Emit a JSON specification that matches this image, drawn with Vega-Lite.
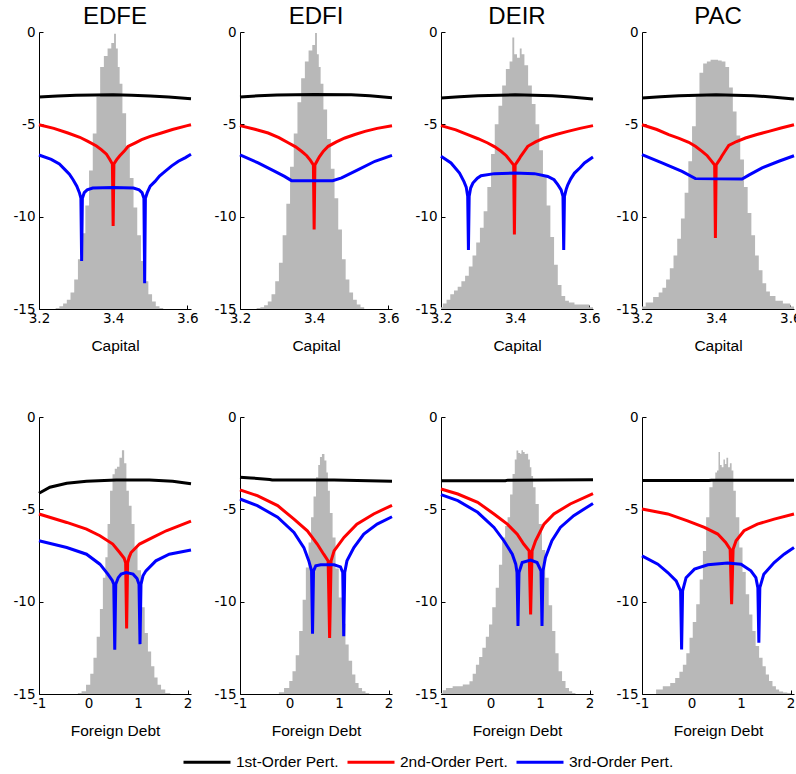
{
  "$schema": "https://vega.github.io/schema/vega-lite/v6.json",
  "background": "white",
  "padding": {"left": 12, "top": 5, "right": 0, "bottom": 0},
  "data": {"values": [
    {"v":"K","m":"EDFE","s":"h","x":3.24,"y":-15},{"v":"K","m":"EDFE","s":"h","x":3.25,"y":-14.95},{"v":"K","m":"EDFE","s":"h","x":3.26,"y":-14.85},{"v":"K","m":"EDFE","s":"h","x":3.27,"y":-14.7},{"v":"K","m":"EDFE","s":"h","x":3.28,"y":-14.5},{"v":"K","m":"EDFE","s":"h","x":3.29,"y":-14.1},{"v":"K","m":"EDFE","s":"h","x":3.30,"y":-13.4},{"v":"K","m":"EDFE","s":"h","x":3.31,"y":-12.3},{"v":"K","m":"EDFE","s":"h","x":3.32,"y":-10.9},{"v":"K","m":"EDFE","s":"h","x":3.33,"y":-9.4},{"v":"K","m":"EDFE","s":"h","x":3.34,"y":-7.5},{"v":"K","m":"EDFE","s":"h","x":3.35,"y":-5.5},{"v":"K","m":"EDFE","s":"h","x":3.36,"y":-3.5},{"v":"K","m":"EDFE","s":"h","x":3.37,"y":-1.9},{"v":"K","m":"EDFE","s":"h","x":3.38,"y":-1.3},{"v":"K","m":"EDFE","s":"h","x":3.39,"y":-0.9},{"v":"K","m":"EDFE","s":"h","x":3.40,"y":-0.6},{"v":"K","m":"EDFE","s":"h","x":3.405,"y":-0.1},{"v":"K","m":"EDFE","s":"h","x":3.41,"y":-0.9},{"v":"K","m":"EDFE","s":"h","x":3.415,"y":-1.9},{"v":"K","m":"EDFE","s":"h","x":3.42,"y":-2.8},{"v":"K","m":"EDFE","s":"h","x":3.43,"y":-4.4},{"v":"K","m":"EDFE","s":"h","x":3.44,"y":-6.2},{"v":"K","m":"EDFE","s":"h","x":3.45,"y":-7.9},{"v":"K","m":"EDFE","s":"h","x":3.46,"y":-9.5},{"v":"K","m":"EDFE","s":"h","x":3.47,"y":-11.0},{"v":"K","m":"EDFE","s":"h","x":3.48,"y":-12.4},{"v":"K","m":"EDFE","s":"h","x":3.49,"y":-13.5},{"v":"K","m":"EDFE","s":"h","x":3.50,"y":-14.2},{"v":"K","m":"EDFE","s":"h","x":3.51,"y":-14.6},{"v":"K","m":"EDFE","s":"h","x":3.52,"y":-14.85},{"v":"K","m":"EDFE","s":"h","x":3.53,"y":-14.95},{"v":"K","m":"EDFE","s":"h","x":3.54,"y":-15},
    {"v":"K","m":"EDFE","s":"1st","x":3.2,"y":-3.52},{"v":"K","m":"EDFE","s":"1st","x":3.25,"y":-3.47},{"v":"K","m":"EDFE","s":"1st","x":3.3,"y":-3.43},{"v":"K","m":"EDFE","s":"1st","x":3.35,"y":-3.41},{"v":"K","m":"EDFE","s":"1st","x":3.4,"y":-3.4},{"v":"K","m":"EDFE","s":"1st","x":3.45,"y":-3.42},{"v":"K","m":"EDFE","s":"1st","x":3.5,"y":-3.46},{"v":"K","m":"EDFE","s":"1st","x":3.55,"y":-3.52},{"v":"K","m":"EDFE","s":"1st","x":3.61,"y":-3.62},
    {"v":"K","m":"EDFE","s":"2nd","x":3.2,"y":-5.02},{"v":"K","m":"EDFE","s":"2nd","x":3.24,"y":-5.22},{"v":"K","m":"EDFE","s":"2nd","x":3.278,"y":-5.47},{"v":"K","m":"EDFE","s":"2nd","x":3.31,"y":-5.7},{"v":"K","m":"EDFE","s":"2nd","x":3.332,"y":-5.92},{"v":"K","m":"EDFE","s":"2nd","x":3.355,"y":-6.17},{"v":"K","m":"EDFE","s":"2nd","x":3.368,"y":-6.37},{"v":"K","m":"EDFE","s":"2nd","x":3.382,"y":-6.62},{"v":"K","m":"EDFE","s":"2nd","x":3.391,"y":-6.9},{"v":"K","m":"EDFE","s":"2nd","x":3.398,"y":-7.15},{"v":"K","m":"EDFE","s":"2nd","x":3.4,"y":-10.5},{"v":"K","m":"EDFE","s":"2nd","x":3.402,"y":-7.15},{"v":"K","m":"EDFE","s":"2nd","x":3.41,"y":-6.9},{"v":"K","m":"EDFE","s":"2nd","x":3.418,"y":-6.7},{"v":"K","m":"EDFE","s":"2nd","x":3.43,"y":-6.45},{"v":"K","m":"EDFE","s":"2nd","x":3.44,"y":-6.2},{"v":"K","m":"EDFE","s":"2nd","x":3.46,"y":-6.0},{"v":"K","m":"EDFE","s":"2nd","x":3.477,"y":-5.83},{"v":"K","m":"EDFE","s":"2nd","x":3.5,"y":-5.65},{"v":"K","m":"EDFE","s":"2nd","x":3.53,"y":-5.47},{"v":"K","m":"EDFE","s":"2nd","x":3.56,"y":-5.28},{"v":"K","m":"EDFE","s":"2nd","x":3.6,"y":-5.07},{"v":"K","m":"EDFE","s":"2nd","x":3.61,"y":-5.02},
    {"v":"K","m":"EDFE","s":"3rd","x":3.2,"y":-6.66},{"v":"K","m":"EDFE","s":"3rd","x":3.233,"y":-6.9},{"v":"K","m":"EDFE","s":"3rd","x":3.255,"y":-7.15},{"v":"K","m":"EDFE","s":"3rd","x":3.27,"y":-7.45},{"v":"K","m":"EDFE","s":"3rd","x":3.282,"y":-7.7},{"v":"K","m":"EDFE","s":"3rd","x":3.292,"y":-8.0},{"v":"K","m":"EDFE","s":"3rd","x":3.302,"y":-8.35},{"v":"K","m":"EDFE","s":"3rd","x":3.309,"y":-8.7},{"v":"K","m":"EDFE","s":"3rd","x":3.313,"y":-9.0},{"v":"K","m":"EDFE","s":"3rd","x":3.315,"y":-12.4},{"v":"K","m":"EDFE","s":"3rd","x":3.317,"y":-9.0},{"v":"K","m":"EDFE","s":"3rd","x":3.322,"y":-8.7},{"v":"K","m":"EDFE","s":"3rd","x":3.33,"y":-8.55},{"v":"K","m":"EDFE","s":"3rd","x":3.345,"y":-8.45},{"v":"K","m":"EDFE","s":"3rd","x":3.40,"y":-8.42},{"v":"K","m":"EDFE","s":"3rd","x":3.455,"y":-8.45},{"v":"K","m":"EDFE","s":"3rd","x":3.47,"y":-8.55},{"v":"K","m":"EDFE","s":"3rd","x":3.478,"y":-8.7},{"v":"K","m":"EDFE","s":"3rd","x":3.483,"y":-9.0},{"v":"K","m":"EDFE","s":"3rd","x":3.485,"y":-13.6},{"v":"K","m":"EDFE","s":"3rd","x":3.487,"y":-9.0},{"v":"K","m":"EDFE","s":"3rd","x":3.492,"y":-8.7},{"v":"K","m":"EDFE","s":"3rd","x":3.5,"y":-8.35},{"v":"K","m":"EDFE","s":"3rd","x":3.513,"y":-8.09},{"v":"K","m":"EDFE","s":"3rd","x":3.525,"y":-7.8},{"v":"K","m":"EDFE","s":"3rd","x":3.54,"y":-7.55},{"v":"K","m":"EDFE","s":"3rd","x":3.558,"y":-7.25},{"v":"K","m":"EDFE","s":"3rd","x":3.576,"y":-7.0},{"v":"K","m":"EDFE","s":"3rd","x":3.595,"y":-6.8},{"v":"K","m":"EDFE","s":"3rd","x":3.61,"y":-6.62},

    {"v":"K","m":"EDFI","s":"h","x":3.24,"y":-15},{"v":"K","m":"EDFI","s":"h","x":3.25,"y":-14.95},{"v":"K","m":"EDFI","s":"h","x":3.26,"y":-14.9},{"v":"K","m":"EDFI","s":"h","x":3.27,"y":-14.8},{"v":"K","m":"EDFI","s":"h","x":3.28,"y":-14.6},{"v":"K","m":"EDFI","s":"h","x":3.29,"y":-14.2},{"v":"K","m":"EDFI","s":"h","x":3.30,"y":-13.5},{"v":"K","m":"EDFI","s":"h","x":3.31,"y":-12.5},{"v":"K","m":"EDFI","s":"h","x":3.32,"y":-11.0},{"v":"K","m":"EDFI","s":"h","x":3.33,"y":-9.3},{"v":"K","m":"EDFI","s":"h","x":3.34,"y":-7.3},{"v":"K","m":"EDFI","s":"h","x":3.35,"y":-5.5},{"v":"K","m":"EDFI","s":"h","x":3.36,"y":-3.8},{"v":"K","m":"EDFI","s":"h","x":3.37,"y":-2.5},{"v":"K","m":"EDFI","s":"h","x":3.38,"y":-1.6},{"v":"K","m":"EDFI","s":"h","x":3.39,"y":-1.0},{"v":"K","m":"EDFI","s":"h","x":3.40,"y":-0.7},{"v":"K","m":"EDFI","s":"h","x":3.405,"y":-0.05},{"v":"K","m":"EDFI","s":"h","x":3.41,"y":-1.2},{"v":"K","m":"EDFI","s":"h","x":3.415,"y":-1.9},{"v":"K","m":"EDFI","s":"h","x":3.42,"y":-2.8},{"v":"K","m":"EDFI","s":"h","x":3.43,"y":-4.2},{"v":"K","m":"EDFI","s":"h","x":3.44,"y":-5.8},{"v":"K","m":"EDFI","s":"h","x":3.45,"y":-7.4},{"v":"K","m":"EDFI","s":"h","x":3.46,"y":-9.0},{"v":"K","m":"EDFI","s":"h","x":3.47,"y":-10.7},{"v":"K","m":"EDFI","s":"h","x":3.48,"y":-12.3},{"v":"K","m":"EDFI","s":"h","x":3.49,"y":-13.4},{"v":"K","m":"EDFI","s":"h","x":3.50,"y":-14.1},{"v":"K","m":"EDFI","s":"h","x":3.51,"y":-14.5},{"v":"K","m":"EDFI","s":"h","x":3.52,"y":-14.75},{"v":"K","m":"EDFI","s":"h","x":3.53,"y":-14.9},{"v":"K","m":"EDFI","s":"h","x":3.54,"y":-15},
    {"v":"K","m":"EDFI","s":"1st","x":3.2,"y":-3.52},{"v":"K","m":"EDFI","s":"1st","x":3.25,"y":-3.45},{"v":"K","m":"EDFI","s":"1st","x":3.3,"y":-3.41},{"v":"K","m":"EDFI","s":"1st","x":3.4,"y":-3.38},{"v":"K","m":"EDFI","s":"1st","x":3.5,"y":-3.4},{"v":"K","m":"EDFI","s":"1st","x":3.55,"y":-3.45},{"v":"K","m":"EDFI","s":"1st","x":3.61,"y":-3.56},
    {"v":"K","m":"EDFI","s":"2nd","x":3.2,"y":-5.07},{"v":"K","m":"EDFI","s":"2nd","x":3.24,"y":-5.27},{"v":"K","m":"EDFI","s":"2nd","x":3.276,"y":-5.47},{"v":"K","m":"EDFI","s":"2nd","x":3.305,"y":-5.72},{"v":"K","m":"EDFI","s":"2nd","x":3.33,"y":-6.0},{"v":"K","m":"EDFI","s":"2nd","x":3.35,"y":-6.22},{"v":"K","m":"EDFI","s":"2nd","x":3.366,"y":-6.46},{"v":"K","m":"EDFI","s":"2nd","x":3.38,"y":-6.7},{"v":"K","m":"EDFI","s":"2nd","x":3.39,"y":-6.95},{"v":"K","m":"EDFI","s":"2nd","x":3.398,"y":-7.2},{"v":"K","m":"EDFI","s":"2nd","x":3.4,"y":-10.7},{"v":"K","m":"EDFI","s":"2nd","x":3.402,"y":-7.2},{"v":"K","m":"EDFI","s":"2nd","x":3.41,"y":-6.9},{"v":"K","m":"EDFI","s":"2nd","x":3.415,"y":-6.73},{"v":"K","m":"EDFI","s":"2nd","x":3.425,"y":-6.45},{"v":"K","m":"EDFI","s":"2nd","x":3.438,"y":-6.19},{"v":"K","m":"EDFI","s":"2nd","x":3.46,"y":-5.95},{"v":"K","m":"EDFI","s":"2nd","x":3.483,"y":-5.74},{"v":"K","m":"EDFI","s":"2nd","x":3.51,"y":-5.55},{"v":"K","m":"EDFI","s":"2nd","x":3.537,"y":-5.38},{"v":"K","m":"EDFI","s":"2nd","x":3.57,"y":-5.22},{"v":"K","m":"EDFI","s":"2nd","x":3.61,"y":-5.08},
    {"v":"K","m":"EDFI","s":"3rd","x":3.2,"y":-6.66},{"v":"K","m":"EDFI","s":"3rd","x":3.249,"y":-7.09},{"v":"K","m":"EDFI","s":"3rd","x":3.294,"y":-7.55},{"v":"K","m":"EDFI","s":"3rd","x":3.32,"y":-7.82},{"v":"K","m":"EDFI","s":"3rd","x":3.339,"y":-8.05},{"v":"K","m":"EDFI","s":"3rd","x":3.45,"y":-8.05},{"v":"K","m":"EDFI","s":"3rd","x":3.474,"y":-7.9},{"v":"K","m":"EDFI","s":"3rd","x":3.519,"y":-7.45},{"v":"K","m":"EDFI","s":"3rd","x":3.564,"y":-7.0},{"v":"K","m":"EDFI","s":"3rd","x":3.61,"y":-6.68},

    {"v":"K","m":"DEIR","s":"h","x":3.20,"y":-14.9},{"v":"K","m":"DEIR","s":"h","x":3.21,"y":-14.7},{"v":"K","m":"DEIR","s":"h","x":3.22,"y":-14.5},{"v":"K","m":"DEIR","s":"h","x":3.23,"y":-14.2},{"v":"K","m":"DEIR","s":"h","x":3.24,"y":-14.0},{"v":"K","m":"DEIR","s":"h","x":3.25,"y":-13.8},{"v":"K","m":"DEIR","s":"h","x":3.26,"y":-13.5},{"v":"K","m":"DEIR","s":"h","x":3.27,"y":-13.2},{"v":"K","m":"DEIR","s":"h","x":3.28,"y":-12.7},{"v":"K","m":"DEIR","s":"h","x":3.29,"y":-12.1},{"v":"K","m":"DEIR","s":"h","x":3.30,"y":-11.4},{"v":"K","m":"DEIR","s":"h","x":3.31,"y":-10.6},{"v":"K","m":"DEIR","s":"h","x":3.32,"y":-9.7},{"v":"K","m":"DEIR","s":"h","x":3.33,"y":-8.4},{"v":"K","m":"DEIR","s":"h","x":3.34,"y":-6.6},{"v":"K","m":"DEIR","s":"h","x":3.35,"y":-5.0},{"v":"K","m":"DEIR","s":"h","x":3.36,"y":-4.0},{"v":"K","m":"DEIR","s":"h","x":3.37,"y":-2.9},{"v":"K","m":"DEIR","s":"h","x":3.38,"y":-2.0},{"v":"K","m":"DEIR","s":"h","x":3.39,"y":-1.6},{"v":"K","m":"DEIR","s":"h","x":3.395,"y":-0.3},{"v":"K","m":"DEIR","s":"h","x":3.40,"y":-1.2},{"v":"K","m":"DEIR","s":"h","x":3.41,"y":-1.4},{"v":"K","m":"DEIR","s":"h","x":3.415,"y":-0.9},{"v":"K","m":"DEIR","s":"h","x":3.42,"y":-1.2},{"v":"K","m":"DEIR","s":"h","x":3.43,"y":-1.8},{"v":"K","m":"DEIR","s":"h","x":3.44,"y":-2.9},{"v":"K","m":"DEIR","s":"h","x":3.45,"y":-3.9},{"v":"K","m":"DEIR","s":"h","x":3.46,"y":-5.0},{"v":"K","m":"DEIR","s":"h","x":3.47,"y":-6.4},{"v":"K","m":"DEIR","s":"h","x":3.48,"y":-7.8},{"v":"K","m":"DEIR","s":"h","x":3.49,"y":-9.4},{"v":"K","m":"DEIR","s":"h","x":3.50,"y":-11.1},{"v":"K","m":"DEIR","s":"h","x":3.51,"y":-12.6},{"v":"K","m":"DEIR","s":"h","x":3.52,"y":-13.7},{"v":"K","m":"DEIR","s":"h","x":3.53,"y":-14.3},{"v":"K","m":"DEIR","s":"h","x":3.54,"y":-14.55},{"v":"K","m":"DEIR","s":"h","x":3.55,"y":-14.65},{"v":"K","m":"DEIR","s":"h","x":3.57,"y":-14.75},{"v":"K","m":"DEIR","s":"h","x":3.59,"y":-14.75},{"v":"K","m":"DEIR","s":"h","x":3.61,"y":-14.9},
    {"v":"K","m":"DEIR","s":"1st","x":3.2,"y":-3.57},{"v":"K","m":"DEIR","s":"1st","x":3.25,"y":-3.5},{"v":"K","m":"DEIR","s":"1st","x":3.3,"y":-3.45},{"v":"K","m":"DEIR","s":"1st","x":3.4,"y":-3.4},{"v":"K","m":"DEIR","s":"1st","x":3.5,"y":-3.45},{"v":"K","m":"DEIR","s":"1st","x":3.55,"y":-3.52},{"v":"K","m":"DEIR","s":"1st","x":3.61,"y":-3.63},
    {"v":"K","m":"DEIR","s":"2nd","x":3.2,"y":-5.07},{"v":"K","m":"DEIR","s":"2nd","x":3.24,"y":-5.3},{"v":"K","m":"DEIR","s":"2nd","x":3.272,"y":-5.56},{"v":"K","m":"DEIR","s":"2nd","x":3.3,"y":-5.78},{"v":"K","m":"DEIR","s":"2nd","x":3.326,"y":-6.01},{"v":"K","m":"DEIR","s":"2nd","x":3.345,"y":-6.22},{"v":"K","m":"DEIR","s":"2nd","x":3.362,"y":-6.46},{"v":"K","m":"DEIR","s":"2nd","x":3.376,"y":-6.7},{"v":"K","m":"DEIR","s":"2nd","x":3.386,"y":-6.95},{"v":"K","m":"DEIR","s":"2nd","x":3.396,"y":-7.2},{"v":"K","m":"DEIR","s":"2nd","x":3.398,"y":-10.97},{"v":"K","m":"DEIR","s":"2nd","x":3.4,"y":-7.2},{"v":"K","m":"DEIR","s":"2nd","x":3.41,"y":-6.9},{"v":"K","m":"DEIR","s":"2nd","x":3.415,"y":-6.73},{"v":"K","m":"DEIR","s":"2nd","x":3.425,"y":-6.45},{"v":"K","m":"DEIR","s":"2nd","x":3.434,"y":-6.19},{"v":"K","m":"DEIR","s":"2nd","x":3.455,"y":-5.95},{"v":"K","m":"DEIR","s":"2nd","x":3.479,"y":-5.74},{"v":"K","m":"DEIR","s":"2nd","x":3.51,"y":-5.55},{"v":"K","m":"DEIR","s":"2nd","x":3.542,"y":-5.38},{"v":"K","m":"DEIR","s":"2nd","x":3.575,"y":-5.22},{"v":"K","m":"DEIR","s":"2nd","x":3.61,"y":-5.07},
    {"v":"K","m":"DEIR","s":"3rd","x":3.2,"y":-6.73},{"v":"K","m":"DEIR","s":"3rd","x":3.227,"y":-7.09},{"v":"K","m":"DEIR","s":"3rd","x":3.25,"y":-7.64},{"v":"K","m":"DEIR","s":"3rd","x":3.262,"y":-8.1},{"v":"K","m":"DEIR","s":"3rd","x":3.268,"y":-8.4},{"v":"K","m":"DEIR","s":"3rd","x":3.272,"y":-8.9},{"v":"K","m":"DEIR","s":"3rd","x":3.274,"y":-11.8},{"v":"K","m":"DEIR","s":"3rd","x":3.276,"y":-8.9},{"v":"K","m":"DEIR","s":"3rd","x":3.28,"y":-8.45},{"v":"K","m":"DEIR","s":"3rd","x":3.286,"y":-8.18},{"v":"K","m":"DEIR","s":"3rd","x":3.298,"y":-7.92},{"v":"K","m":"DEIR","s":"3rd","x":3.308,"y":-7.78},{"v":"K","m":"DEIR","s":"3rd","x":3.344,"y":-7.67},{"v":"K","m":"DEIR","s":"3rd","x":3.398,"y":-7.64},{"v":"K","m":"DEIR","s":"3rd","x":3.452,"y":-7.67},{"v":"K","m":"DEIR","s":"3rd","x":3.488,"y":-7.82},{"v":"K","m":"DEIR","s":"3rd","x":3.505,"y":-8.0},{"v":"K","m":"DEIR","s":"3rd","x":3.515,"y":-8.27},{"v":"K","m":"DEIR","s":"3rd","x":3.524,"y":-8.55},{"v":"K","m":"DEIR","s":"3rd","x":3.529,"y":-8.9},{"v":"K","m":"DEIR","s":"3rd","x":3.531,"y":-11.8},{"v":"K","m":"DEIR","s":"3rd","x":3.533,"y":-8.9},{"v":"K","m":"DEIR","s":"3rd","x":3.538,"y":-8.5},{"v":"K","m":"DEIR","s":"3rd","x":3.542,"y":-8.27},{"v":"K","m":"DEIR","s":"3rd","x":3.55,"y":-7.95},{"v":"K","m":"DEIR","s":"3rd","x":3.56,"y":-7.64},{"v":"K","m":"DEIR","s":"3rd","x":3.575,"y":-7.35},{"v":"K","m":"DEIR","s":"3rd","x":3.587,"y":-7.09},{"v":"K","m":"DEIR","s":"3rd","x":3.61,"y":-6.77},

    {"v":"K","m":"PAC","s":"h","x":3.20,"y":-14.86},{"v":"K","m":"PAC","s":"h","x":3.22,"y":-14.65},{"v":"K","m":"PAC","s":"h","x":3.24,"y":-14.35},{"v":"K","m":"PAC","s":"h","x":3.25,"y":-14.1},{"v":"K","m":"PAC","s":"h","x":3.26,"y":-13.85},{"v":"K","m":"PAC","s":"h","x":3.27,"y":-13.4},{"v":"K","m":"PAC","s":"h","x":3.28,"y":-12.8},{"v":"K","m":"PAC","s":"h","x":3.29,"y":-12.1},{"v":"K","m":"PAC","s":"h","x":3.30,"y":-11.2},{"v":"K","m":"PAC","s":"h","x":3.31,"y":-10.1},{"v":"K","m":"PAC","s":"h","x":3.32,"y":-8.7},{"v":"K","m":"PAC","s":"h","x":3.33,"y":-7.0},{"v":"K","m":"PAC","s":"h","x":3.34,"y":-5.1},{"v":"K","m":"PAC","s":"h","x":3.35,"y":-3.5},{"v":"K","m":"PAC","s":"h","x":3.36,"y":-2.2},{"v":"K","m":"PAC","s":"h","x":3.37,"y":-1.7},{"v":"K","m":"PAC","s":"h","x":3.38,"y":-1.6},{"v":"K","m":"PAC","s":"h","x":3.39,"y":-1.5},{"v":"K","m":"PAC","s":"h","x":3.40,"y":-1.5},{"v":"K","m":"PAC","s":"h","x":3.41,"y":-1.55},{"v":"K","m":"PAC","s":"h","x":3.42,"y":-1.6},{"v":"K","m":"PAC","s":"h","x":3.43,"y":-1.9},{"v":"K","m":"PAC","s":"h","x":3.44,"y":-3.0},{"v":"K","m":"PAC","s":"h","x":3.45,"y":-4.3},{"v":"K","m":"PAC","s":"h","x":3.46,"y":-5.6},{"v":"K","m":"PAC","s":"h","x":3.47,"y":-6.9},{"v":"K","m":"PAC","s":"h","x":3.48,"y":-8.4},{"v":"K","m":"PAC","s":"h","x":3.49,"y":-9.8},{"v":"K","m":"PAC","s":"h","x":3.50,"y":-11.0},{"v":"K","m":"PAC","s":"h","x":3.51,"y":-12.1},{"v":"K","m":"PAC","s":"h","x":3.52,"y":-12.9},{"v":"K","m":"PAC","s":"h","x":3.53,"y":-13.6},{"v":"K","m":"PAC","s":"h","x":3.54,"y":-14.05},{"v":"K","m":"PAC","s":"h","x":3.55,"y":-14.3},{"v":"K","m":"PAC","s":"h","x":3.57,"y":-14.55},{"v":"K","m":"PAC","s":"h","x":3.59,"y":-14.7},{"v":"K","m":"PAC","s":"h","x":3.61,"y":-14.86},
    {"v":"K","m":"PAC","s":"1st","x":3.2,"y":-3.57},{"v":"K","m":"PAC","s":"1st","x":3.25,"y":-3.5},{"v":"K","m":"PAC","s":"1st","x":3.3,"y":-3.45},{"v":"K","m":"PAC","s":"1st","x":3.4,"y":-3.4},{"v":"K","m":"PAC","s":"1st","x":3.5,"y":-3.45},{"v":"K","m":"PAC","s":"1st","x":3.55,"y":-3.52},{"v":"K","m":"PAC","s":"1st","x":3.61,"y":-3.63},
    {"v":"K","m":"PAC","s":"2nd","x":3.2,"y":-5.02},{"v":"K","m":"PAC","s":"2nd","x":3.24,"y":-5.28},{"v":"K","m":"PAC","s":"2nd","x":3.272,"y":-5.56},{"v":"K","m":"PAC","s":"2nd","x":3.3,"y":-5.76},{"v":"K","m":"PAC","s":"2nd","x":3.326,"y":-5.97},{"v":"K","m":"PAC","s":"2nd","x":3.345,"y":-6.2},{"v":"K","m":"PAC","s":"2nd","x":3.362,"y":-6.46},{"v":"K","m":"PAC","s":"2nd","x":3.376,"y":-6.7},{"v":"K","m":"PAC","s":"2nd","x":3.386,"y":-6.95},{"v":"K","m":"PAC","s":"2nd","x":3.396,"y":-7.2},{"v":"K","m":"PAC","s":"2nd","x":3.398,"y":-11.16},{"v":"K","m":"PAC","s":"2nd","x":3.4,"y":-7.2},{"v":"K","m":"PAC","s":"2nd","x":3.41,"y":-6.9},{"v":"K","m":"PAC","s":"2nd","x":3.415,"y":-6.73},{"v":"K","m":"PAC","s":"2nd","x":3.425,"y":-6.42},{"v":"K","m":"PAC","s":"2nd","x":3.434,"y":-6.14},{"v":"K","m":"PAC","s":"2nd","x":3.455,"y":-5.93},{"v":"K","m":"PAC","s":"2nd","x":3.479,"y":-5.74},{"v":"K","m":"PAC","s":"2nd","x":3.51,"y":-5.55},{"v":"K","m":"PAC","s":"2nd","x":3.542,"y":-5.38},{"v":"K","m":"PAC","s":"2nd","x":3.575,"y":-5.2},{"v":"K","m":"PAC","s":"2nd","x":3.61,"y":-5.02},
    {"v":"K","m":"PAC","s":"3rd","x":3.2,"y":-6.64},{"v":"K","m":"PAC","s":"3rd","x":3.254,"y":-7.09},{"v":"K","m":"PAC","s":"3rd","x":3.308,"y":-7.55},{"v":"K","m":"PAC","s":"3rd","x":3.344,"y":-7.94},{"v":"K","m":"PAC","s":"3rd","x":3.47,"y":-7.96},{"v":"K","m":"PAC","s":"3rd","x":3.488,"y":-7.75},{"v":"K","m":"PAC","s":"3rd","x":3.524,"y":-7.36},{"v":"K","m":"PAC","s":"3rd","x":3.569,"y":-7.0},{"v":"K","m":"PAC","s":"3rd","x":3.61,"y":-6.7},

    {"v":"D","m":"EDFE","s":"h","x":-0.25,"y":-15},{"v":"D","m":"EDFE","s":"h","x":-0.18,"y":-14.95},{"v":"D","m":"EDFE","s":"h","x":-0.1,"y":-14.85},{"v":"D","m":"EDFE","s":"h","x":0,"y":-14.5},{"v":"D","m":"EDFE","s":"h","x":0.07,"y":-13.9},{"v":"D","m":"EDFE","s":"h","x":0.13,"y":-13.04},{"v":"D","m":"EDFE","s":"h","x":0.2,"y":-11.9},{"v":"D","m":"EDFE","s":"h","x":0.26,"y":-10.4},{"v":"D","m":"EDFE","s":"h","x":0.32,"y":-8.7},{"v":"D","m":"EDFE","s":"h","x":0.36,"y":-7.6},{"v":"D","m":"EDFE","s":"h","x":0.41,"y":-5.8},{"v":"D","m":"EDFE","s":"h","x":0.46,"y":-4.0},{"v":"D","m":"EDFE","s":"h","x":0.51,"y":-3.1},{"v":"D","m":"EDFE","s":"h","x":0.55,"y":-2.8},{"v":"D","m":"EDFE","s":"h","x":0.6,"y":-2.7},{"v":"D","m":"EDFE","s":"h","x":0.65,"y":-2.2},{"v":"D","m":"EDFE","s":"h","x":0.7,"y":-1.8},{"v":"D","m":"EDFE","s":"h","x":0.74,"y":-2.5},{"v":"D","m":"EDFE","s":"h","x":0.79,"y":-4.0},{"v":"D","m":"EDFE","s":"h","x":0.84,"y":-4.8},{"v":"D","m":"EDFE","s":"h","x":0.9,"y":-5.8},{"v":"D","m":"EDFE","s":"h","x":0.96,"y":-7.1},{"v":"D","m":"EDFE","s":"h","x":1.02,"y":-8.3},{"v":"D","m":"EDFE","s":"h","x":1.1,"y":-10.3},{"v":"D","m":"EDFE","s":"h","x":1.17,"y":-11.7},{"v":"D","m":"EDFE","s":"h","x":1.23,"y":-12.7},{"v":"D","m":"EDFE","s":"h","x":1.3,"y":-13.5},{"v":"D","m":"EDFE","s":"h","x":1.36,"y":-14.1},{"v":"D","m":"EDFE","s":"h","x":1.43,"y":-14.5},{"v":"D","m":"EDFE","s":"h","x":1.5,"y":-14.76},{"v":"D","m":"EDFE","s":"h","x":1.6,"y":-14.95},{"v":"D","m":"EDFE","s":"h","x":1.7,"y":-15},
    {"v":"D","m":"EDFE","s":"1st","x":-1,"y":-4.13},{"v":"D","m":"EDFE","s":"1st","x":-0.78,"y":-3.8},{"v":"D","m":"EDFE","s":"1st","x":-0.44,"y":-3.59},{"v":"D","m":"EDFE","s":"1st","x":-0.04,"y":-3.48},{"v":"D","m":"EDFE","s":"1st","x":0.56,"y":-3.41},{"v":"D","m":"EDFE","s":"1st","x":1.23,"y":-3.41},{"v":"D","m":"EDFE","s":"1st","x":1.7,"y":-3.48},{"v":"D","m":"EDFE","s":"1st","x":2.07,"y":-3.62},
    {"v":"D","m":"EDFE","s":"2nd","x":-1,"y":-5.25},{"v":"D","m":"EDFE","s":"2nd","x":-0.44,"y":-5.71},{"v":"D","m":"EDFE","s":"2nd","x":-0.04,"y":-6.07},{"v":"D","m":"EDFE","s":"2nd","x":0.23,"y":-6.43},{"v":"D","m":"EDFE","s":"2nd","x":0.49,"y":-6.88},{"v":"D","m":"EDFE","s":"2nd","x":0.63,"y":-7.34},{"v":"D","m":"EDFE","s":"2nd","x":0.72,"y":-7.65},{"v":"D","m":"EDFE","s":"2nd","x":0.75,"y":-7.9},{"v":"D","m":"EDFE","s":"2nd","x":0.77,"y":-11.45},{"v":"D","m":"EDFE","s":"2nd","x":0.79,"y":-7.9},{"v":"D","m":"EDFE","s":"2nd","x":0.82,"y":-7.6},{"v":"D","m":"EDFE","s":"2nd","x":0.86,"y":-7.34},{"v":"D","m":"EDFE","s":"2nd","x":1.03,"y":-6.88},{"v":"D","m":"EDFE","s":"2nd","x":1.3,"y":-6.52},{"v":"D","m":"EDFE","s":"2nd","x":1.57,"y":-6.16},{"v":"D","m":"EDFE","s":"2nd","x":2.07,"y":-5.64},
    {"v":"D","m":"EDFE","s":"3rd","x":-1,"y":-6.7},{"v":"D","m":"EDFE","s":"3rd","x":-0.44,"y":-7.07},{"v":"D","m":"EDFE","s":"3rd","x":-0.04,"y":-7.43},{"v":"D","m":"EDFE","s":"3rd","x":0.23,"y":-7.97},{"v":"D","m":"EDFE","s":"3rd","x":0.39,"y":-8.51},{"v":"D","m":"EDFE","s":"3rd","x":0.48,"y":-8.85},{"v":"D","m":"EDFE","s":"3rd","x":0.51,"y":-9.06},{"v":"D","m":"EDFE","s":"3rd","x":0.53,"y":-12.6},{"v":"D","m":"EDFE","s":"3rd","x":0.55,"y":-9.06},{"v":"D","m":"EDFE","s":"3rd","x":0.6,"y":-8.7},{"v":"D","m":"EDFE","s":"3rd","x":0.66,"y":-8.5},{"v":"D","m":"EDFE","s":"3rd","x":0.76,"y":-8.42},{"v":"D","m":"EDFE","s":"3rd","x":0.9,"y":-8.51},{"v":"D","m":"EDFE","s":"3rd","x":0.98,"y":-8.75},{"v":"D","m":"EDFE","s":"3rd","x":1.02,"y":-9.06},{"v":"D","m":"EDFE","s":"3rd","x":1.04,"y":-12.3},{"v":"D","m":"EDFE","s":"3rd","x":1.06,"y":-9.06},{"v":"D","m":"EDFE","s":"3rd","x":1.1,"y":-8.6},{"v":"D","m":"EDFE","s":"3rd","x":1.16,"y":-8.33},{"v":"D","m":"EDFE","s":"3rd","x":1.36,"y":-7.79},{"v":"D","m":"EDFE","s":"3rd","x":1.63,"y":-7.43},{"v":"D","m":"EDFE","s":"3rd","x":2.07,"y":-7.2},

    {"v":"D","m":"EDFI","s":"h","x":-0.25,"y":-15},{"v":"D","m":"EDFI","s":"h","x":-0.18,"y":-14.9},{"v":"D","m":"EDFI","s":"h","x":-0.04,"y":-14.67},{"v":"D","m":"EDFI","s":"h","x":0.03,"y":-14.3},{"v":"D","m":"EDFI","s":"h","x":0.09,"y":-13.77},{"v":"D","m":"EDFI","s":"h","x":0.16,"y":-12.9},{"v":"D","m":"EDFI","s":"h","x":0.23,"y":-11.59},{"v":"D","m":"EDFI","s":"h","x":0.3,"y":-9.9},{"v":"D","m":"EDFI","s":"h","x":0.36,"y":-8.15},{"v":"D","m":"EDFI","s":"h","x":0.41,"y":-6.8},{"v":"D","m":"EDFI","s":"h","x":0.46,"y":-5.43},{"v":"D","m":"EDFI","s":"h","x":0.51,"y":-4.3},{"v":"D","m":"EDFI","s":"h","x":0.56,"y":-3.26},{"v":"D","m":"EDFI","s":"h","x":0.6,"y":-2.6},{"v":"D","m":"EDFI","s":"h","x":0.63,"y":-2.17},{"v":"D","m":"EDFI","s":"h","x":0.68,"y":-2.0},{"v":"D","m":"EDFI","s":"h","x":0.73,"y":-2.36},{"v":"D","m":"EDFI","s":"h","x":0.76,"y":-3.0},{"v":"D","m":"EDFI","s":"h","x":0.79,"y":-3.99},{"v":"D","m":"EDFI","s":"h","x":0.84,"y":-5.2},{"v":"D","m":"EDFI","s":"h","x":0.9,"y":-6.52},{"v":"D","m":"EDFI","s":"h","x":0.96,"y":-8.2},{"v":"D","m":"EDFI","s":"h","x":1.03,"y":-9.78},{"v":"D","m":"EDFI","s":"h","x":1.1,"y":-11.2},{"v":"D","m":"EDFI","s":"h","x":1.16,"y":-12.32},{"v":"D","m":"EDFI","s":"h","x":1.23,"y":-13.2},{"v":"D","m":"EDFI","s":"h","x":1.3,"y":-13.95},{"v":"D","m":"EDFI","s":"h","x":1.36,"y":-14.4},{"v":"D","m":"EDFI","s":"h","x":1.43,"y":-14.67},{"v":"D","m":"EDFI","s":"h","x":1.5,"y":-14.85},{"v":"D","m":"EDFI","s":"h","x":1.57,"y":-14.95},{"v":"D","m":"EDFI","s":"h","x":1.65,"y":-15},
    {"v":"D","m":"EDFI","s":"1st","x":-1,"y":-3.26},{"v":"D","m":"EDFI","s":"1st","x":-0.78,"y":-3.3},{"v":"D","m":"EDFI","s":"1st","x":-0.4,"y":-3.38},{"v":"D","m":"EDFI","s":"1st","x":-0.35,"y":-3.41},{"v":"D","m":"EDFI","s":"1st","x":0.9,"y":-3.41},{"v":"D","m":"EDFI","s":"1st","x":2.07,"y":-3.48},
    {"v":"D","m":"EDFI","s":"2nd","x":-1,"y":-3.95},{"v":"D","m":"EDFI","s":"2nd","x":-0.65,"y":-4.26},{"v":"D","m":"EDFI","s":"2nd","x":-0.24,"y":-4.8},{"v":"D","m":"EDFI","s":"2nd","x":0.09,"y":-5.53},{"v":"D","m":"EDFI","s":"2nd","x":0.36,"y":-6.16},{"v":"D","m":"EDFI","s":"2nd","x":0.56,"y":-6.88},{"v":"D","m":"EDFI","s":"2nd","x":0.69,"y":-7.43},{"v":"D","m":"EDFI","s":"2nd","x":0.78,"y":-7.79},{"v":"D","m":"EDFI","s":"2nd","x":0.81,"y":-11.96},{"v":"D","m":"EDFI","s":"2nd","x":0.84,"y":-7.79},{"v":"D","m":"EDFI","s":"2nd","x":0.9,"y":-7.25},{"v":"D","m":"EDFI","s":"2nd","x":1.1,"y":-6.52},{"v":"D","m":"EDFI","s":"2nd","x":1.36,"y":-5.8},{"v":"D","m":"EDFI","s":"2nd","x":1.7,"y":-5.25},{"v":"D","m":"EDFI","s":"2nd","x":2.07,"y":-4.78},
    {"v":"D","m":"EDFI","s":"3rd","x":-1,"y":-4.44},{"v":"D","m":"EDFI","s":"3rd","x":-0.65,"y":-4.8},{"v":"D","m":"EDFI","s":"3rd","x":-0.24,"y":-5.43},{"v":"D","m":"EDFI","s":"3rd","x":0.09,"y":-6.25},{"v":"D","m":"EDFI","s":"3rd","x":0.29,"y":-7.07},{"v":"D","m":"EDFI","s":"3rd","x":0.39,"y":-7.79},{"v":"D","m":"EDFI","s":"3rd","x":0.445,"y":-8.33},{"v":"D","m":"EDFI","s":"3rd","x":0.465,"y":-11.74},{"v":"D","m":"EDFI","s":"3rd","x":0.485,"y":-8.33},{"v":"D","m":"EDFI","s":"3rd","x":0.53,"y":-8.06},{"v":"D","m":"EDFI","s":"3rd","x":0.63,"y":-8.0},{"v":"D","m":"EDFI","s":"3rd","x":0.9,"y":-8.0},{"v":"D","m":"EDFI","s":"3rd","x":1.03,"y":-8.12},{"v":"D","m":"EDFI","s":"3rd","x":1.075,"y":-8.42},{"v":"D","m":"EDFI","s":"3rd","x":1.095,"y":-11.87},{"v":"D","m":"EDFI","s":"3rd","x":1.115,"y":-8.42},{"v":"D","m":"EDFI","s":"3rd","x":1.16,"y":-7.79},{"v":"D","m":"EDFI","s":"3rd","x":1.3,"y":-7.07},{"v":"D","m":"EDFI","s":"3rd","x":1.5,"y":-6.34},{"v":"D","m":"EDFI","s":"3rd","x":1.77,"y":-5.8},{"v":"D","m":"EDFI","s":"3rd","x":2.07,"y":-5.4},

    {"v":"D","m":"DEIR","s":"h","x":-1,"y":-14.95},{"v":"D","m":"DEIR","s":"h","x":-0.93,"y":-14.8},{"v":"D","m":"DEIR","s":"h","x":-0.87,"y":-14.67},{"v":"D","m":"DEIR","s":"h","x":-0.66,"y":-14.58},{"v":"D","m":"DEIR","s":"h","x":-0.46,"y":-14.49},{"v":"D","m":"DEIR","s":"h","x":-0.39,"y":-14.31},{"v":"D","m":"DEIR","s":"h","x":-0.33,"y":-13.9},{"v":"D","m":"DEIR","s":"h","x":-0.26,"y":-13.41},{"v":"D","m":"DEIR","s":"h","x":-0.2,"y":-13.0},{"v":"D","m":"DEIR","s":"h","x":-0.13,"y":-12.5},{"v":"D","m":"DEIR","s":"h","x":-0.06,"y":-11.9},{"v":"D","m":"DEIR","s":"h","x":0,"y":-11.23},{"v":"D","m":"DEIR","s":"h","x":0.07,"y":-10.3},{"v":"D","m":"DEIR","s":"h","x":0.14,"y":-9.24},{"v":"D","m":"DEIR","s":"h","x":0.2,"y":-8.0},{"v":"D","m":"DEIR","s":"h","x":0.27,"y":-6.52},{"v":"D","m":"DEIR","s":"h","x":0.32,"y":-5.9},{"v":"D","m":"DEIR","s":"h","x":0.37,"y":-5.43},{"v":"D","m":"DEIR","s":"h","x":0.42,"y":-4.2},{"v":"D","m":"DEIR","s":"h","x":0.47,"y":-3.08},{"v":"D","m":"DEIR","s":"h","x":0.51,"y":-2.3},{"v":"D","m":"DEIR","s":"h","x":0.54,"y":-1.81},{"v":"D","m":"DEIR","s":"h","x":0.58,"y":-1.95},{"v":"D","m":"DEIR","s":"h","x":0.61,"y":-1.99},{"v":"D","m":"DEIR","s":"h","x":0.64,"y":-1.8},{"v":"D","m":"DEIR","s":"h","x":0.67,"y":-1.9},{"v":"D","m":"DEIR","s":"h","x":0.71,"y":-2.0},{"v":"D","m":"DEIR","s":"h","x":0.74,"y":-1.99},{"v":"D","m":"DEIR","s":"h","x":0.78,"y":-2.3},{"v":"D","m":"DEIR","s":"h","x":0.81,"y":-2.72},{"v":"D","m":"DEIR","s":"h","x":0.84,"y":-3.2},{"v":"D","m":"DEIR","s":"h","x":0.88,"y":-3.8},{"v":"D","m":"DEIR","s":"h","x":0.94,"y":-4.71},{"v":"D","m":"DEIR","s":"h","x":1.01,"y":-5.8},{"v":"D","m":"DEIR","s":"h","x":1.07,"y":-7.2},{"v":"D","m":"DEIR","s":"h","x":1.14,"y":-8.7},{"v":"D","m":"DEIR","s":"h","x":1.21,"y":-10.2},{"v":"D","m":"DEIR","s":"h","x":1.28,"y":-11.59},{"v":"D","m":"DEIR","s":"h","x":1.34,"y":-12.8},{"v":"D","m":"DEIR","s":"h","x":1.41,"y":-13.77},{"v":"D","m":"DEIR","s":"h","x":1.48,"y":-14.3},{"v":"D","m":"DEIR","s":"h","x":1.55,"y":-14.67},{"v":"D","m":"DEIR","s":"h","x":1.62,"y":-14.85},{"v":"D","m":"DEIR","s":"h","x":1.68,"y":-14.95},{"v":"D","m":"DEIR","s":"h","x":1.75,"y":-15},
    {"v":"D","m":"DEIR","s":"1st","x":-1,"y":-3.45},{"v":"D","m":"DEIR","s":"1st","x":0.3,"y":-3.45},{"v":"D","m":"DEIR","s":"1st","x":0.35,"y":-3.42},{"v":"D","m":"DEIR","s":"1st","x":2.07,"y":-3.4},
    {"v":"D","m":"DEIR","s":"2nd","x":-1,"y":-3.9},{"v":"D","m":"DEIR","s":"2nd","x":-0.66,"y":-4.17},{"v":"D","m":"DEIR","s":"2nd","x":-0.26,"y":-4.62},{"v":"D","m":"DEIR","s":"2nd","x":0.07,"y":-5.25},{"v":"D","m":"DEIR","s":"2nd","x":0.34,"y":-5.8},{"v":"D","m":"DEIR","s":"2nd","x":0.54,"y":-6.34},{"v":"D","m":"DEIR","s":"2nd","x":0.67,"y":-6.88},{"v":"D","m":"DEIR","s":"2nd","x":0.78,"y":-7.25},{"v":"D","m":"DEIR","s":"2nd","x":0.81,"y":-10.69},{"v":"D","m":"DEIR","s":"2nd","x":0.84,"y":-7.25},{"v":"D","m":"DEIR","s":"2nd","x":0.91,"y":-6.7},{"v":"D","m":"DEIR","s":"2nd","x":1.08,"y":-5.8},{"v":"D","m":"DEIR","s":"2nd","x":1.28,"y":-5.25},{"v":"D","m":"DEIR","s":"2nd","x":1.61,"y":-4.71},{"v":"D","m":"DEIR","s":"2nd","x":2.07,"y":-4.15},
    {"v":"D","m":"DEIR","s":"3rd","x":-1,"y":-4.2},{"v":"D","m":"DEIR","s":"3rd","x":-0.66,"y":-4.53},{"v":"D","m":"DEIR","s":"3rd","x":-0.26,"y":-5.16},{"v":"D","m":"DEIR","s":"3rd","x":0.07,"y":-5.98},{"v":"D","m":"DEIR","s":"3rd","x":0.27,"y":-6.7},{"v":"D","m":"DEIR","s":"3rd","x":0.44,"y":-7.43},{"v":"D","m":"DEIR","s":"3rd","x":0.51,"y":-7.97},{"v":"D","m":"DEIR","s":"3rd","x":0.535,"y":-8.42},{"v":"D","m":"DEIR","s":"3rd","x":0.555,"y":-11.32},{"v":"D","m":"DEIR","s":"3rd","x":0.575,"y":-8.42},{"v":"D","m":"DEIR","s":"3rd","x":0.64,"y":-7.88},{"v":"D","m":"DEIR","s":"3rd","x":0.81,"y":-7.75},{"v":"D","m":"DEIR","s":"3rd","x":0.94,"y":-7.88},{"v":"D","m":"DEIR","s":"3rd","x":1.02,"y":-8.33},{"v":"D","m":"DEIR","s":"3rd","x":1.04,"y":-11.32},{"v":"D","m":"DEIR","s":"3rd","x":1.06,"y":-8.33},{"v":"D","m":"DEIR","s":"3rd","x":1.11,"y":-7.61},{"v":"D","m":"DEIR","s":"3rd","x":1.24,"y":-6.7},{"v":"D","m":"DEIR","s":"3rd","x":1.41,"y":-5.98},{"v":"D","m":"DEIR","s":"3rd","x":1.68,"y":-5.34},{"v":"D","m":"DEIR","s":"3rd","x":2.07,"y":-4.68},

    {"v":"D","m":"PAC","s":"h","x":-0.75,"y":-15},{"v":"D","m":"PAC","s":"h","x":-0.68,"y":-14.76},{"v":"D","m":"PAC","s":"h","x":-0.48,"y":-14.58},{"v":"D","m":"PAC","s":"h","x":-0.38,"y":-14.4},{"v":"D","m":"PAC","s":"h","x":-0.28,"y":-14.13},{"v":"D","m":"PAC","s":"h","x":-0.21,"y":-13.8},{"v":"D","m":"PAC","s":"h","x":-0.14,"y":-13.41},{"v":"D","m":"PAC","s":"h","x":-0.07,"y":-12.8},{"v":"D","m":"PAC","s":"h","x":-0.01,"y":-11.96},{"v":"D","m":"PAC","s":"h","x":0.06,"y":-11.1},{"v":"D","m":"PAC","s":"h","x":0.13,"y":-10.14},{"v":"D","m":"PAC","s":"h","x":0.2,"y":-8.8},{"v":"D","m":"PAC","s":"h","x":0.26,"y":-7.25},{"v":"D","m":"PAC","s":"h","x":0.33,"y":-5.43},{"v":"D","m":"PAC","s":"h","x":0.39,"y":-3.8},{"v":"D","m":"PAC","s":"h","x":0.46,"y":-3.44},{"v":"D","m":"PAC","s":"h","x":0.5,"y":-3.0},{"v":"D","m":"PAC","s":"h","x":0.53,"y":-2.9},{"v":"D","m":"PAC","s":"h","x":0.56,"y":-1.9},{"v":"D","m":"PAC","s":"h","x":0.59,"y":-2.6},{"v":"D","m":"PAC","s":"h","x":0.63,"y":-2.72},{"v":"D","m":"PAC","s":"h","x":0.66,"y":-2.3},{"v":"D","m":"PAC","s":"h","x":0.69,"y":-2.54},{"v":"D","m":"PAC","s":"h","x":0.72,"y":-2.2},{"v":"D","m":"PAC","s":"h","x":0.76,"y":-2.72},{"v":"D","m":"PAC","s":"h","x":0.79,"y":-2.5},{"v":"D","m":"PAC","s":"h","x":0.83,"y":-2.9},{"v":"D","m":"PAC","s":"h","x":0.86,"y":-3.99},{"v":"D","m":"PAC","s":"h","x":0.93,"y":-5.43},{"v":"D","m":"PAC","s":"h","x":1.0,"y":-7.07},{"v":"D","m":"PAC","s":"h","x":1.06,"y":-8.4},{"v":"D","m":"PAC","s":"h","x":1.13,"y":-9.6},{"v":"D","m":"PAC","s":"h","x":1.2,"y":-10.7},{"v":"D","m":"PAC","s":"h","x":1.26,"y":-11.59},{"v":"D","m":"PAC","s":"h","x":1.33,"y":-12.4},{"v":"D","m":"PAC","s":"h","x":1.4,"y":-13.04},{"v":"D","m":"PAC","s":"h","x":1.47,"y":-13.5},{"v":"D","m":"PAC","s":"h","x":1.53,"y":-13.95},{"v":"D","m":"PAC","s":"h","x":1.6,"y":-14.3},{"v":"D","m":"PAC","s":"h","x":1.67,"y":-14.58},{"v":"D","m":"PAC","s":"h","x":1.74,"y":-14.75},{"v":"D","m":"PAC","s":"h","x":1.8,"y":-14.86},{"v":"D","m":"PAC","s":"h","x":1.9,"y":-14.92},{"v":"D","m":"PAC","s":"h","x":1.97,"y":-14.95},{"v":"D","m":"PAC","s":"h","x":2.05,"y":-15},
    {"v":"D","m":"PAC","s":"1st","x":-1,"y":-3.44},{"v":"D","m":"PAC","s":"1st","x":0.35,"y":-3.44},{"v":"D","m":"PAC","s":"1st","x":0.4,"y":-3.42},{"v":"D","m":"PAC","s":"1st","x":2.07,"y":-3.42},
    {"v":"D","m":"PAC","s":"2nd","x":-1,"y":-4.98},{"v":"D","m":"PAC","s":"2nd","x":-0.48,"y":-5.25},{"v":"D","m":"PAC","s":"2nd","x":-0.08,"y":-5.62},{"v":"D","m":"PAC","s":"2nd","x":0.26,"y":-5.98},{"v":"D","m":"PAC","s":"2nd","x":0.53,"y":-6.34},{"v":"D","m":"PAC","s":"2nd","x":0.69,"y":-6.79},{"v":"D","m":"PAC","s":"2nd","x":0.78,"y":-7.16},{"v":"D","m":"PAC","s":"2nd","x":0.81,"y":-10.14},{"v":"D","m":"PAC","s":"2nd","x":0.84,"y":-7.16},{"v":"D","m":"PAC","s":"2nd","x":0.9,"y":-6.7},{"v":"D","m":"PAC","s":"2nd","x":1.06,"y":-6.16},{"v":"D","m":"PAC","s":"2nd","x":1.33,"y":-5.8},{"v":"D","m":"PAC","s":"2nd","x":1.67,"y":-5.53},{"v":"D","m":"PAC","s":"2nd","x":2.07,"y":-5.25},
    {"v":"D","m":"PAC","s":"3rd","x":-1,"y":-7.52},{"v":"D","m":"PAC","s":"3rd","x":-0.68,"y":-7.97},{"v":"D","m":"PAC","s":"3rd","x":-0.48,"y":-8.42},{"v":"D","m":"PAC","s":"3rd","x":-0.31,"y":-8.88},{"v":"D","m":"PAC","s":"3rd","x":-0.22,"y":-9.42},{"v":"D","m":"PAC","s":"3rd","x":-0.2,"y":-12.59},{"v":"D","m":"PAC","s":"3rd","x":-0.18,"y":-9.42},{"v":"D","m":"PAC","s":"3rd","x":-0.11,"y":-8.7},{"v":"D","m":"PAC","s":"3rd","x":0.06,"y":-8.24},{"v":"D","m":"PAC","s":"3rd","x":0.33,"y":-8.0},{"v":"D","m":"PAC","s":"3rd","x":0.73,"y":-7.9},{"v":"D","m":"PAC","s":"3rd","x":1.0,"y":-7.97},{"v":"D","m":"PAC","s":"3rd","x":1.2,"y":-8.33},{"v":"D","m":"PAC","s":"3rd","x":1.3,"y":-8.7},{"v":"D","m":"PAC","s":"3rd","x":1.34,"y":-9.24},{"v":"D","m":"PAC","s":"3rd","x":1.36,"y":-12.23},{"v":"D","m":"PAC","s":"3rd","x":1.38,"y":-9.24},{"v":"D","m":"PAC","s":"3rd","x":1.46,"y":-8.51},{"v":"D","m":"PAC","s":"3rd","x":1.67,"y":-7.88},{"v":"D","m":"PAC","s":"3rd","x":1.87,"y":-7.43},{"v":"D","m":"PAC","s":"3rd","x":2.07,"y":-7.07}
  ]},
  "spacing": 55,
  "vconcat": [
    {
      "transform": [{"filter": "datum.v == 'K'"}],
      "facet": {"column": {"field": "m", "type": "nominal", "sort": ["EDFE", "EDFI", "DEIR", "PAC"],
        "header": {"title": null, "labelFont": "Liberation Sans", "labelFontSize": 24, "labelColor": "#000000", "labelBaseline": "alphabetic", "labelPadding": -16}}},
      "spacing": 49,
      "bounds": "flush",
      "resolve": {"axis": {"x": "independent", "y": "independent"}},
      "spec": {
        "width": 152,
        "height": 277,
        "encoding": {
          "x": {"field": "x", "type": "quantitative", "scale": {"domain": [3.2, 3.61], "nice": false, "zero": false},
            "axis": {"values": [3.2, 3.4, 3.6], "title": "Capital", "labelExpr": "toString(datum.value)"}},
          "y": {"field": "y", "type": "quantitative", "scale": {"domain": [-15, 0], "nice": false},
            "axis": {"values": [-15, -10, -5, 0], "title": null, "labelExpr": "toString(datum.value)"}}
        },
        "layer": [
          {"transform": [{"filter": "datum.s == 'h'"}],
           "mark": {"type": "area", "interpolate": "step", "color": "#b8b8b8"},
           "encoding": {"y2": {"datum": -15}}},
          {"transform": [{"filter": "datum.s != 'h'"}],
           "mark": {"type": "line", "strokeWidth": 3},
           "encoding": {"color": {"field": "s", "type": "nominal",
             "scale": {"domain": ["1st", "2nd", "3rd"], "range": ["#000000", "#ff0000", "#0000ff"]},
             "legend": {"title": null, "orient": "none", "direction": "horizontal", "legendX": 143, "legendY": 705,
               "symbolType": "stroke", "symbolSize": 2209, "symbolStrokeWidth": 3, "labelFont": "Liberation Sans",
               "labelFontSize": 15.5, "labelColor": "#000000", "labelOffset": 4, "columnPadding": 2, "padding": 0,
               "labelExpr": "datum.label + '-Order Pert.'"}}}}
        ]
      }
    },
    {
      "transform": [{"filter": "datum.v == 'D'"}],
      "facet": {"column": {"field": "m", "type": "nominal", "sort": ["EDFE", "EDFI", "DEIR", "PAC"],
        "header": {"title": null, "labels": false}}},
      "spacing": 49,
      "bounds": "flush",
      "resolve": {"axis": {"x": "independent", "y": "independent"}},
      "spec": {
        "width": 152,
        "height": 277,
        "encoding": {
          "x": {"field": "x", "type": "quantitative", "scale": {"domain": [-1, 2.07], "nice": false, "zero": false},
            "axis": {"values": [-1, 0, 1, 2], "title": "Foreign Debt", "labelExpr": "toString(datum.value)"}},
          "y": {"field": "y", "type": "quantitative", "scale": {"domain": [-15, 0], "nice": false},
            "axis": {"values": [-15, -10, -5, 0], "title": null, "labelExpr": "toString(datum.value)"}}
        },
        "layer": [
          {"transform": [{"filter": "datum.s == 'h'"}],
           "mark": {"type": "area", "interpolate": "step", "color": "#b8b8b8"},
           "encoding": {"y2": {"datum": -15}}},
          {"transform": [{"filter": "datum.s != 'h'"}],
           "mark": {"type": "line", "strokeWidth": 3},
           "encoding": {"color": {"field": "s", "type": "nominal",
             "scale": {"domain": ["1st", "2nd", "3rd"], "range": ["#000000", "#ff0000", "#0000ff"]},
             "legend": {"title": null, "orient": "none", "direction": "horizontal", "legendX": 143, "legendY": 705,
               "symbolType": "stroke", "symbolSize": 2209, "symbolStrokeWidth": 3, "labelFont": "Liberation Sans",
               "labelFontSize": 15.5, "labelColor": "#000000", "labelOffset": 4, "columnPadding": 2, "padding": 0,
               "labelExpr": "datum.label + '-Order Pert.'"}}}}
        ]
      }
    }
  ],
  "config": {
    "view": {"stroke": null},
    "axis": {"grid": false, "domainColor": "#000000", "tickColor": "#000000", "tickSize": -4,
      "labelColor": "#000000", "labelFont": "DejaVu Sans", "labelFontSize": 13.5,
      "titleFont": "Liberation Sans", "titleFontSize": 15.5, "titleFontWeight": "normal", "titleColor": "#000000",
      "labelFlush": false, "labelOverlap": false, "titlePadding": 13.5},
    "axisX": {"labelPadding": 6.7},
    "axisY": {"labelPadding": 8}
  }
}
